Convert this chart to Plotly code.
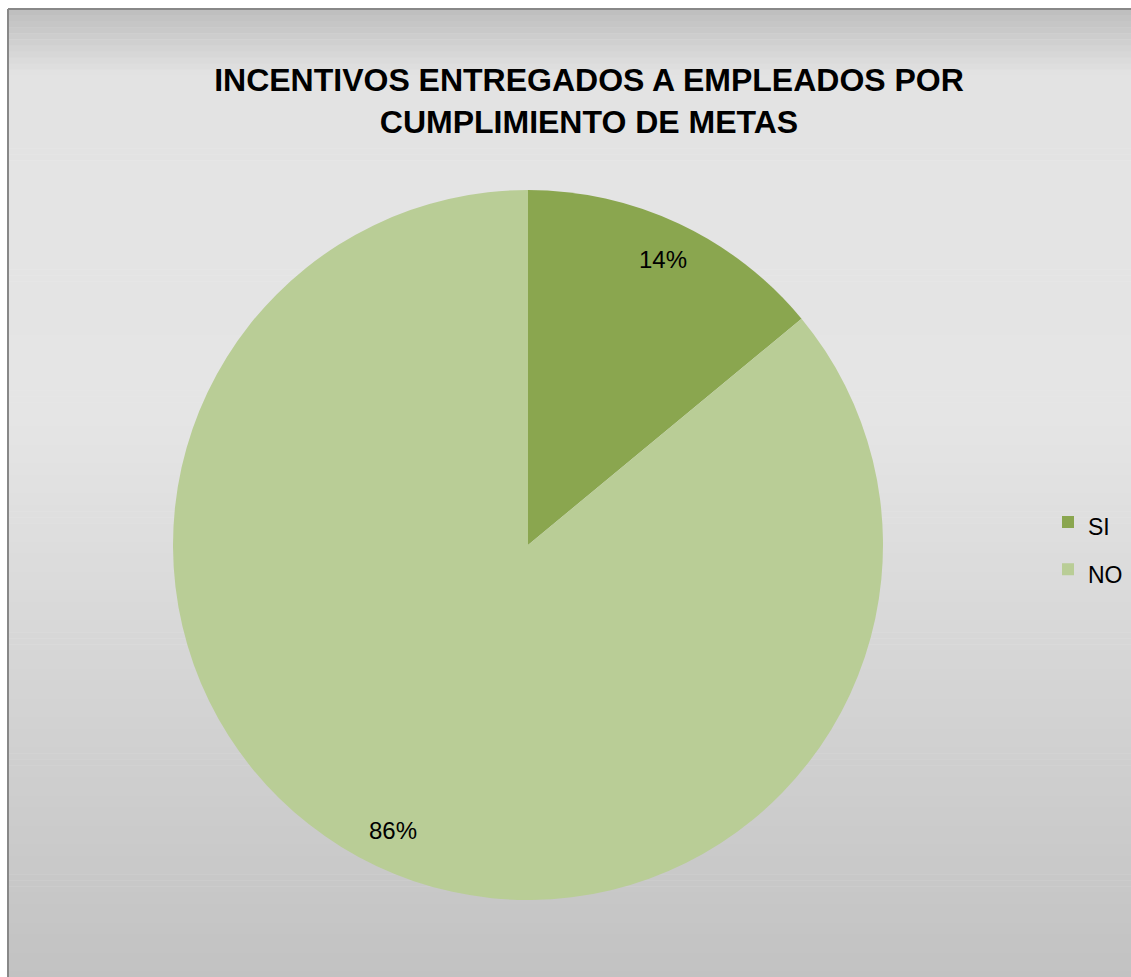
import math
import plotly.graph_objects as go

# Survey result: were incentives delivered to employees for meeting goals?
categories = ["SI", "NO"]
values = [14, 86]
colors = ["#8aa64f", "#b9cd96"]

W, H = 1131, 977
FONT = "Liberation Sans, Arial, sans-serif"

# Pie placement (pixels)
cx, cy, R = 528, 545, 355

fig = go.Figure()

fig.add_trace(go.Pie(
    labels=[f"<span style='font-size:23px'>{c}</span>" for c in categories],
    values=values,
    marker=dict(colors=colors, line=dict(width=0)),
    sort=False,
    direction="clockwise",
    rotation=0,
    textinfo="none",
    hoverinfo="label+percent",
    domain=dict(x=[(cx - R) / W, (cx + R) / W], y=[1 - (cy + R) / H, 1 - (cy - R) / H]),
))

# Percentage labels placed along each slice's mid angle
total = sum(values)
annotations = []
cum = 0.0
for v in values:
    frac = v / total
    mid = (cum + frac / 2) * 2 * math.pi
    cum += frac
    r = 0.89 * R
    px = cx + r * math.sin(mid)
    py = cy - r * math.cos(mid)
    annotations.append(dict(
        x=px / W, y=1 - py / H, xref="paper", yref="paper",
        text=f"{round(frac * 100)}%", showarrow=False,
        font=dict(family=FONT, size=24, color="#000000"),
        xanchor="center", yanchor="middle",
    ))

# Chart area background: vertical gray gradient with a thin frame
stops = [(10, 190), (75, 227), (420, 229), (977, 194)]


def gray_at(y):
    for (y0, g0), (y1, g1) in zip(stops, stops[1:]):
        if y0 <= y <= y1:
            t = (y - y0) / (y1 - y0)
            return g0 + (g1 - g0) * t
    return stops[-1][1]


shapes = []
top, left = 9, 8
n = 160
step = (H - top) / n
for i in range(n):
    y0 = top + i * step
    y1 = y0 + step + 0.6
    g = int(round(gray_at(y0 + step / 2)))
    shapes.append(dict(
        type="rect", xref="paper", yref="paper", layer="below",
        x0=left / W, x1=1, y0=1 - min(y1, H) / H, y1=1 - y0 / H,
        fillcolor=f"rgb({g},{g},{g})", line=dict(width=0),
    ))
shapes.append(dict(type="line", xref="paper", yref="paper", layer="below",
                   x0=left / W, x1=1, y0=1 - top / H, y1=1 - top / H,
                   line=dict(color="#888888", width=2)))
shapes.append(dict(type="line", xref="paper", yref="paper", layer="below",
                   x0=left / W, x1=left / W, y0=0, y1=1 - top / H,
                   line=dict(color="#888888", width=2)))

fig.update_layout(
    width=W, height=H,
    margin=dict(l=0, r=0, t=0, b=0),
    paper_bgcolor="#ffffff",
    plot_bgcolor="rgba(0,0,0,0)",
    title=dict(
        text="<b>INCENTIVOS ENTREGADOS A EMPLEADOS POR<br>CUMPLIMIENTO DE METAS</b>",
        x=589 / W, xanchor="center", xref="paper",
        y=1 - 91 / H, yanchor="middle", yref="paper",
        font=dict(family=FONT, size=32, color="#000000"),
    ),
    legend=dict(
        x=1048 / W, xanchor="left", y=1 - 546 / H, yanchor="middle",
        font=dict(family=FONT, size=34, color="#000000"),
        bgcolor="rgba(0,0,0,0)", itemwidth=30,
    ),
    shapes=shapes,
    annotations=annotations,
)

fig.write_html(
    "out.html",
    post_script="document.body.style.margin='0';document.body.style.overflow='hidden';",
)
